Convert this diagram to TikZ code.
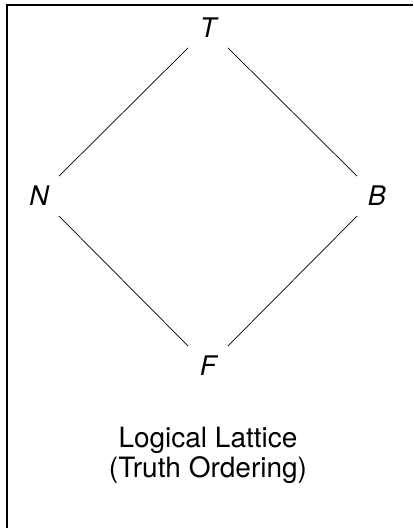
\documentclass[tikz,border=0pt]{standalone}
\usepackage{fontspec}
\setmainfont{TeX Gyre Heros}
\begin{document}
\begin{tikzpicture}[x=1pt,y=-1pt,
  elem/.style={circle,minimum size=56pt,inner sep=0pt,font=\fontsize{27}{28}\selectfont\itshape},
  edge/.style={line width=0.7pt}]
\useasboundingbox (0,0) rectangle (413,528);
\draw[line width=1.2pt] (7,528) -- (7,5) -- (413,5);
\node[elem] (t) at (208,28) {T};
\node[elem] (n) at (39,196) {N};
\node[elem] (b) at (377,196) {B};
\node[elem] (f) at (208,366) {F};
\draw[edge] (t) -- (n);
\draw[edge] (t) -- (b);
\draw[edge] (n) -- (f);
\draw[edge] (b) -- (f);
\node[align=center,font=\fontsize{28}{30}\selectfont] (cap) at (208,455) {Logical Lattice\\(Truth Ordering)};
\end{tikzpicture}
\end{document}
